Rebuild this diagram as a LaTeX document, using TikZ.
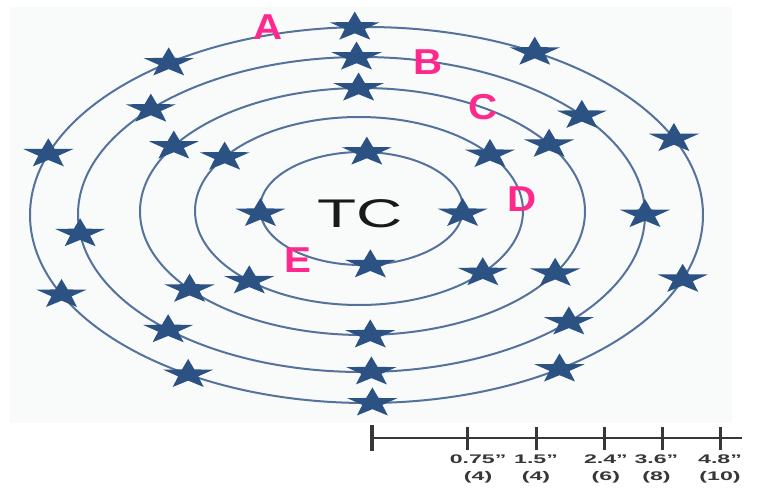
\documentclass[tikz,border=0pt]{standalone}
\usepackage{fontspec}
\setmainfont{Liberation Sans}
\usetikzlibrary{
    shapes.geometric,
    positioning
}
\definecolor{orbitblue}{RGB}{84,114,156}
\definecolor{starblue}{RGB}{44,82,132}
\definecolor{labelpink}{RGB}{255,40,140}
\definecolor{scalegray}{RGB}{55,55,55}
\definecolor{panelgray}{RGB}{249,251,251}
\newcommand{\inch}{\symbol{34}}
\tikzstyle{orbit} = [
    draw=orbitblue,
    line width=2pt
]
\tikzstyle{orbitstar} = [
    star,
    star points=5,
    star point ratio=2.5,
    fill=starblue,
    minimum size=31pt,
    inner sep=0pt,
    xscale=1.7
]
\tikzstyle{ringlabel} = [
    text=labelpink,
    inner sep=0pt,
    font=\fontsize{36}{36}\selectfont\bfseries,
    xscale=1.12
]
\tikzstyle{scaleline} = [
    draw=scalegray,
    line width=2.5pt
]
\tikzstyle{scalelabel} = [
    text=scalegray,
    align=center,
    inner sep=0pt,
    font=\fontsize{12.5}{17}\selectfont\bfseries,
    xscale=1.85
]

\begin{document}
\begin{tikzpicture}[x=1pt, y=-1pt]
    \useasboundingbox (0,0) rectangle (758,495);
    \fill[panelgray] (10,7) rectangle (732,423);

    % Rings
    \draw[orbit] (366.5,215) ellipse [x radius=336.5, y radius=188];
    \draw[orbit] (361.5,214.5) ellipse [x radius=283.5, y radius=157.5];
    \draw[orbit] (362.5,211.5) ellipse [x radius=222.5, y radius=123.5];
    \draw[orbit] (359,211) ellipse [x radius=164, y radius=94];
    \draw[orbit] (361.5,208.5) ellipse [x radius=101.5, y radius=56.5];

    % Stars
    \foreach \t [count=\i] in {-92,-126,-60,-161,-24,155,20,122,55,89}
        \node[orbitstar] (a\i) at ([shift={(366.5,215)}] \t:336.5 and 188) {};
    \foreach \t [count=\i] in {-91,-138,-39,173,0,133,43,88}
        \node[orbitstar] (b\i) at ([shift={(361.5,214.5)}] \t:283.5 and 157.5) {};
    \foreach \t [count=\i] in {-91,-148,-33,141,30,88}
        \node[orbitstar] (c\i) at ([shift={(362.5,211.5)}] \t:222.5 and 123.5) {};
    \foreach \t [count=\i] in {-145,-37,132,41}
        \node[orbitstar] (d\i) at ([shift={(359,211)}] \t:164 and 94) {};
    \foreach \t [count=\i] in {-87,175,5,85}
        \node[orbitstar] (e\i) at ([shift={(361.5,208.5)}] \t:101.5 and 56.5) {};

    % Centre and ring labels
    \node[font=\fontsize{40}{40}\selectfont, text=black!90, inner sep=0pt, xscale=1.6] (tc) at (360,214) {TC};
    \node[ringlabel] (la) at (268,27) {A};
    \node[ringlabel] (lb) at (428,62) {B};
    \node[ringlabel] (lc) at (483,107) {C};
    \node[ringlabel] (ld) at (522,199) {D};
    \node[ringlabel] (le) at (298,260) {E};

    % Scale
    \coordinate (s0) at (372,438);
    \coordinate (s1) at (467,438);
    \coordinate (s2) at (536,438);
    \coordinate (s3) at (604,438);
    \coordinate (s4) at (662,438);
    \coordinate (s5) at (720,438);
    \coordinate (send) at (742,438);
    \draw[scaleline] (s0) -- (send);
    \draw[scaleline, line width=3.5pt] ([yshift=13pt]s0) -- ([yshift=-13pt]s0);
    \foreach \n in {1,...,5}
        \draw[scaleline, line width=3pt] ([yshift=11pt]s\n) -- ([yshift=-12pt]s\n);
    \node[scalelabel, below=17pt of s1, xshift=6pt] (l1) {0.75\inch\\(4)};
    \node[scalelabel, below=17pt of s2] (l2) {1.5\inch\\(4)};
    \node[scalelabel, below=17pt of s3, xshift=1pt] (l3) {2.4\inch\\(6)};
    \node[scalelabel, below=17pt of s4, xshift=-3pt] (l4) {3.6\inch\\(8)};
    \node[scalelabel, below=17pt of s5] (l5) {4.8\inch\\(10)};
\end{tikzpicture}
\end{document}
